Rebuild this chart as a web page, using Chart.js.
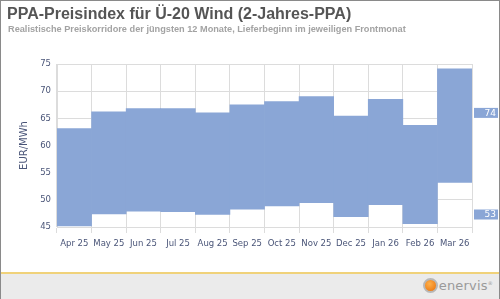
<!DOCTYPE html>
<html>
<head>
    <style>
        body, html {
            margin: 0;
            width: 500px;
            height: 299px;
            overflow: hidden;
            background: #fff;
        }
        #frame {
            position: absolute;
            left: 0; top: 0;
            width: 498px; height: 297px;
            border: 1px solid #8a8a8a;
        }
        #title {
            position: absolute;
            left: 7px; top: 5px;
            font: bold 16px "Liberation Sans", Arial, sans-serif;
            color: #555;
            white-space: nowrap;
        }
        #subtitle {
            position: absolute;
            left: 8px; top: 24px;
            font: bold 9.2px "Liberation Sans", Arial, sans-serif;
            color: #a3a3a3;
            white-space: nowrap;
        }
        #chartBox {
            position: absolute;
            left: 0; top: 0;
            width: 500px; height: 272px;
        }
        #footer {
            position: absolute;
            left: 1px; top: 272px;
            width: 498px; height: 25px;
            background: #ebebeb;
            border-top: 2px solid #f0d27a;
        }
        #logo {
            position: absolute;
            right: 6px; top: 4px;
            font: 13px "DejaVu Sans", sans-serif;
            color: #9a9a9a;
            letter-spacing: 0.2px;
        }
        #logo .dot {
            display: inline-block;
            width: 11px; height: 11px;
            border-radius: 50%;
            background: radial-gradient(circle at 40% 35%, #ffb04a, #e8700a);
            border: 2px solid #b8b8b8;
            vertical-align: -3px;
            margin-right: 1px;
        }
        #logo sup { font-size: 5px; }
    </style>
    <script src="https://cdn.jsdelivr.net/npm/chart.js"></script>
</head>
<body>
    <div id="frame"></div>
    <div id="chartBox"><canvas id="ppaChart"></canvas></div>
    <div id="title">PPA-Preisindex für Ü-20 Wind (2-Jahres-PPA)</div>
    <div id="subtitle">Realistische Preiskorridore der jüngsten 12 Monate, Lieferbeginn im jeweiligen Frontmonat</div>
    <div id="footer"><div id="logo"><span class="dot"></span>enervis<sup>®</sup></div></div>

    <script>
        const months = ["Apr 25", "May 25", "Jun 25", "Jul 25", "Aug 25", "Sep 25",
                        "Oct 25", "Nov 25", "Dec 25", "Jan 26", "Feb 26", "Mar 26"];
        const lowValues  = [45.2, 47.4, 47.9, 47.8, 47.3, 48.3, 48.9, 49.5, 46.9, 49.1, 45.6, 53.2];
        const highValues = [63.1, 66.2, 66.8, 66.8, 66.0, 67.5, 68.1, 69.0, 65.4, 68.5, 63.7, 74.1];
        const yTicks = [45, 50, 55, 60, 65, 70, 75];

        const fillColor = "#8aa6d6";
        const textColor = "#4a5578";

        // badges on the right with the latest high / low value
        const badgePlugin = {
            id: "badges",
            afterDraw(chart) {
                const ctx = chart.ctx;
                const y = chart.scales.y;
                const last = highValues.length - 1;
                const badges = [
                    { text: Math.round(highValues[last]), at: 66.0 },
                    { text: Math.round(lowValues[last]), at: 47.3 }
                ];
                ctx.save();
                ctx.font = "9px 'DejaVu Sans'";
                ctx.textAlign = "right";
                ctx.textBaseline = "middle";
                badges.forEach(b => {
                    const cy = y.getPixelForValue(b.at);
                    ctx.fillStyle = fillColor;
                    ctx.fillRect(chart.chartArea.right + 2, cy - 5, 24, 10);
                    ctx.fillStyle = "#fff";
                    ctx.fillText(String(b.text), chart.chartArea.right + 24, cy + 0.5);
                });
                ctx.restore();
            }
        };

        const ctx = document.getElementById("ppaChart").getContext("2d");
        new Chart(ctx, {
            type: "bar",
            data: {
                labels: months,
                datasets: [{
                    data: months.map((m, i) => [lowValues[i], highValues[i]]),
                    backgroundColor: fillColor,
                    borderWidth: 0,
                    barPercentage: 1.0,
                    categoryPercentage: 1.0
                }]
            },
            options: {
                responsive: true,
                maintainAspectRatio: false,
                animation: false,
                layout: { padding: { top: 64, right: 28, left: 0, bottom: 0 } },
                plugins: {
                    legend: { display: false },
                    tooltip: { enabled: false }
                },
                scales: {
                    x: {
                        grid: { color: "#dcdcdc", tickLength: 6, offset: true },
                        border: { color: "#dcdcdc" },
                        ticks: {
                            color: textColor,
                            font: { family: "DejaVu Sans", size: 8.5 },
                            maxRotation: 0,
                            autoSkip: false,
                            padding: 6
                        },
                        afterFit(scale) { scale.height = 45; }
                    },
                    y: {
                        min: 45,
                        max: 75,
                        afterBuildTicks(scale) { scale.ticks = yTicks.map(v => ({ value: v })); },
                        grid: { color: "#dcdcdc", drawTicks: false },
                        border: { color: "#dcdcdc" },
                        ticks: {
                            color: textColor,
                            font: { family: "DejaVu Sans", size: 8.5 },
                            padding: 6
                        },
                        title: {
                            display: true,
                            text: "EUR/MWh",
                            color: textColor,
                            font: { family: "DejaVu Sans", size: 10 },
                            padding: { top: 18, bottom: 0 }
                        },
                        afterFit(scale) { scale.width = 57; }
                    }
                }
            },
            plugins: [badgePlugin]
        });
    </script>
</body>
</html>
